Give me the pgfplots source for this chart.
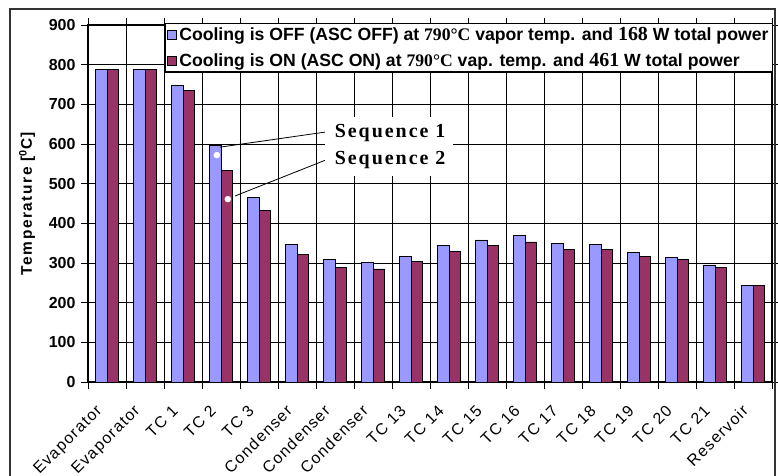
\documentclass[border=0pt]{standalone}
\usepackage{pgfplots}
\pgfplotsset{compat=1.18}
\usepackage{fontspec}
\setmainfont{Liberation Sans}
\newfontfamily\serif{Liberation Serif}
\definecolor{offblue}{HTML}{9999FF}
\definecolor{onred}{HTML}{993366}
\definecolor{framegray}{HTML}{333333}

\begin{document}
\begin{tikzpicture}
\begin{axis}[
  scale only axis,
  width=684bp, height=357bp,
  xmin=-0.5, xmax=17.5,
  ymin=0, ymax=900,
  axis line style={black, line width=1.1bp},
  xtick={0,...,17},
  xticklabels={Evaporator,Evaporator,TC 1,TC 2,TC 3,Condenser,Condenser,Condenser,TC 13,TC 14,TC 15,TC 16,TC 17,TC 18,TC 19,TC 20,TC 21,Reservoir},
  minor xtick={-0.5,0.5,...,17.5},
  xminorgrids,
  ytick={0,100,...,900},
  ymajorgrids,
  tick align=outside,
  major tick length=7bp,
  minor tick length=7bp,
  major x tick style={draw=none},
  minor x tick style={black, line width=1bp},
  major y tick style={black, line width=1bp},
  grid style={black, line width=0.9bp},
  minor grid style={black, line width=0.9bp},
  /pgf/number format/assume math mode=true,
  yticklabel style={font=\bfseries\fontsize{16}{16}\selectfont, xshift=-2bp},
  xticklabel style={xshift=-12bp, yshift=-10bp, rotate=45, anchor=north east, font=\fontsize{16}{16}\selectfont\addfontfeature{LetterSpace=8}},
  ylabel={\bfseries Temperature [\textsuperscript{0}C]},
  ylabel style={font=\fontsize{15.5}{15.5}\selectfont\addfontfeature{LetterSpace=10}, at={(axis description cs:-0.089,0.5)}, anchor=center},
  legend style={at={(1.0015,1.0056)}, anchor=north east, draw=black, line width=1.2bp,
    fill=white, font=\bfseries\fontsize{17.7}{17.7}\selectfont, row sep=7bp,
    inner xsep=2bp, inner ysep=2bp},
  legend cell align=left,
  legend image code/.code={\draw[#1, line width=0.8bp] (0bp,-4.5bp) rectangle (9bp,4.5bp);},
]
% cooling off
\addplot[ybar, bar width=11.6bp, bar shift=-5.8bp, fill=offblue, draw=black, line width=0.9bp]
  coordinates {(0,788) (1,788) (2,747) (3,597) (4,465) (5,347) (6,309) (7,301) (8,317)
               (9,343) (10,358) (11,370) (12,349) (13,346) (14,326) (15,313) (16,295) (17,243)};
% cooling on
\addplot[ybar, bar width=11.6bp, bar shift=5.8bp, fill=onred, draw=black, line width=0.9bp]
  coordinates {(0,788) (1,788) (2,735) (3,534) (4,433) (5,322) (6,289) (7,285) (8,305)
               (9,330) (10,343) (11,353) (12,334) (13,334) (14,317) (15,309) (16,289) (17,243)};
\legend{Cooling is OFF (ASC OFF) at {\serif 790°C} vapor temp. and {\serif\fontsize{20}{17}\selectfont 168} W total power,
        Cooling is ON (ASC ON) at {\serif 790°C} vap. temp. and {\serif\fontsize{20}{17}\selectfont 461} W total power}
% sequence markers
\addplot[only marks, mark=*, mark size=3bp, white, forget plot]
  coordinates {(2.89,572) (3.18,461)};
\draw[black, line width=0.8bp] (axis cs:5.74,630) -- (axis cs:2.97,592);
\draw[black, line width=0.8bp] (axis cs:5.82,562) -- (axis cs:3.37,469);
\fill[white] (axis cs:5.74,520) rectangle (axis cs:9.10,667);
\node[font=\serif\bfseries\fontsize{20}{20}\selectfont\addfontfeature{LetterSpace=10}] at (axis cs:7.45,627) {Sequence 1};
\node[font=\serif\bfseries\fontsize{20}{20}\selectfont\addfontfeature{LetterSpace=10}] at (axis cs:7.45,559) {Sequence 2};
\end{axis}
% chart frame
\draw[framegray, line width=1.2bp] (-78bp,-100bp) -- (-78bp,373bp) -- (687bp,373bp) -- (687bp,-100bp);
\pgfresetboundingbox
\path[use as bounding box] (-88bp,-94bp) rectangle (690bp,382bp);
\end{tikzpicture}
\end{document}
